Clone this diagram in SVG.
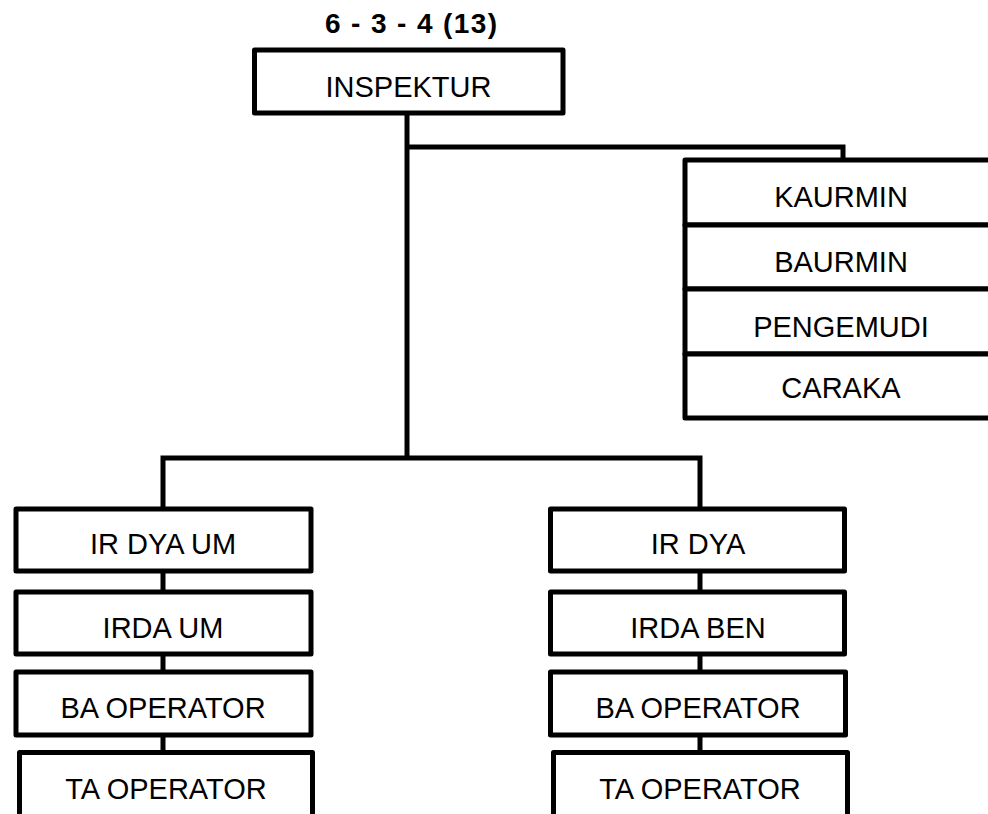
<svg xmlns="http://www.w3.org/2000/svg" width="988" height="814" viewBox="0 0 988 814">
<style>
.box{fill:#fff;stroke:#000;stroke-width:5;stroke-linejoin:round}
.ln{fill:none;stroke:#000;stroke-width:5;stroke-linejoin:miter}
.t{font-family:"Liberation Sans",Arial,sans-serif;font-size:29px;fill:#000;text-anchor:middle}
.title{font-family:"Liberation Sans",Arial,sans-serif;font-size:28px;font-weight:bold;fill:#000;text-anchor:middle}
</style>
<rect width="988" height="814" fill="#fff"/>
<g id="connectors">
<path class="ln" d="M407,113 V458"/>
<path class="ln" d="M407,147 H843 V160"/>
<path class="ln" d="M163,509 V458 H700 V509"/>
<path class="ln" d="M163,571 V592 M163,654 V672 M163,735 V753"/>
<path class="ln" d="M700,571 V592 M700,654 V672 M700,735 V753"/>
</g>
<g id="title"><text class="title" x="411" y="33" textLength="172" lengthAdjust="spacing">6 - 3 - 4 (13)</text></g>
<g id="inspektur"><rect class="box" x="254.5" y="50" width="308.5" height="63"/><text class="t" x="408.5" y="97">INSPEKTUR</text></g>
<g id="kaurmin"><rect class="box" x="685" y="160" width="320" height="65"/><text class="t" x="841" y="207">KAURMIN</text></g>
<g id="baurmin"><rect class="box" x="685" y="225" width="320" height="64"/><text class="t" x="841" y="272">BAURMIN</text></g>
<g id="pengemudi"><rect class="box" x="685" y="289" width="320" height="65"/><text class="t" x="841" y="337">PENGEMUDI</text></g>
<g id="caraka"><rect class="box" x="685" y="354" width="320" height="64"/><text class="t" x="841" y="398">CARAKA</text></g>
<g id="irdyaum"><rect class="box" x="16" y="509" width="295" height="62"/><text class="t" x="163" y="553.5">IR DYA UM</text></g>
<g id="irdaum"><rect class="box" x="16" y="592" width="295" height="62"/><text class="t" x="163" y="637.5">IRDA UM</text></g>
<g id="baop1"><rect class="box" x="16" y="672" width="295" height="63"/><text class="t" x="163" y="717.5">BA OPERATOR</text></g>
<g id="taop1"><rect class="box" x="19.5" y="752.5" width="293" height="80"/><text class="t" x="166" y="799">TA OPERATOR</text></g>
<g id="irdya"><rect class="box" x="550.5" y="509" width="294" height="62"/><text class="t" x="698" y="553.5">IR DYA</text></g>
<g id="irdaben"><rect class="box" x="550.5" y="592" width="294" height="62"/><text class="t" x="698" y="637.5">IRDA BEN</text></g>
<g id="baop2"><rect class="box" x="550.5" y="672" width="295" height="63"/><text class="t" x="698" y="717.5">BA OPERATOR</text></g>
<g id="taop2"><rect class="box" x="553.5" y="752.5" width="294" height="80"/><text class="t" x="700" y="799">TA OPERATOR</text></g>
</svg>
